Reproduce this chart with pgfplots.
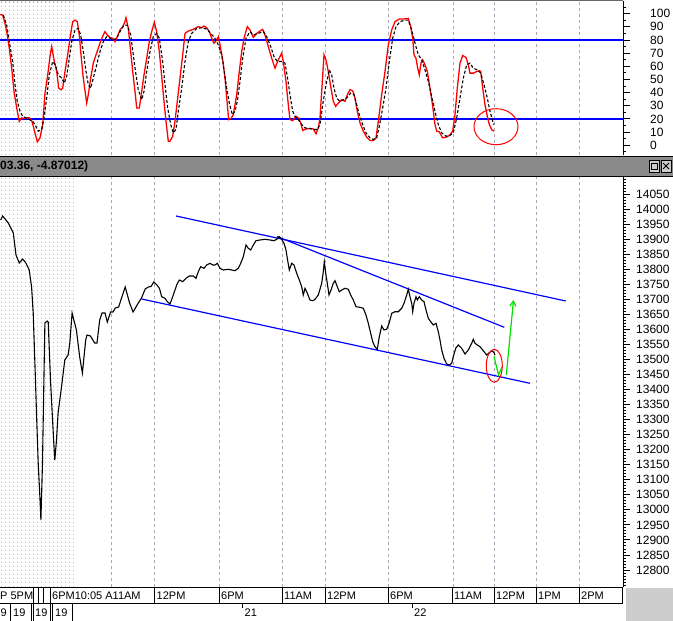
\documentclass[border=0pt]{standalone}
\usepackage{fontspec}
\setmainfont{Liberation Sans}
\usepackage{pgfplots}
\usetikzlibrary{arrows.meta}
\pgfplotsset{compat=1.18}
\definecolor{barg}{RGB}{138,138,138}
\definecolor{gridc}{RGB}{170,165,185}
\definecolor{gridm}{RGB}{190,185,200}
\definecolor{lime}{RGB}{0,225,0}
\definecolor{cornerg}{RGB}{205,205,205}
\pgfplotsset{
  common/.style={
    scale only axis, width=623pt,
    xmin=0, xmax=623,
    axis y line*=right, axis x line*=bottom,
    x axis line style={draw=none},
    xtick={111.6,154.5,219,282,325,388,453,494,536,579},
    xticklabels={},
    minor xtick={1.5,5.5,...,73.5},
    xtick style={draw=none},
    xmajorgrids, xminorgrids,
    major grid style={gridc, dash pattern=on 3pt off 3pt, line width=0.8pt},
    minor grid style={gridm, dash pattern=on 1.5pt off 2.5pt, line width=0.7pt},
    scaled y ticks=false,
    ytick align=outside,
    major tick length=7pt, minor tick length=3pt,
    y axis line style={line width=1pt},
    ytick style={line width=0.9pt, black},
    /pgf/number format/assume math mode=true,
    /pgf/number format/1000 sep={},
    yticklabel style={font=\fontsize{12}{14}\selectfont, anchor=west, inner sep=0pt},
  }
}
\begin{document}
\begin{tikzpicture}
\path[use as bounding box, fill=white] (0pt,0pt) rectangle (673pt,-621pt);

% ---------- top panel: stochastic ----------
\begin{axis}[common,
  at={(0pt,-155pt)}, anchor=south west, height=154pt,
  ymin=-7.4, ymax=109.6,
  ytick={0,10,...,100}, minor ytick={-5,5,...,105},
  yticklabel shift=20pt,
]
\addplot[blue, line width=1.2pt] coordinates {(0,80) (623,80)};
\addplot[blue, line width=1.2pt] coordinates {(0,20) (623,20)};
\addplot[red, line width=1.3pt] coordinates {
(0,99.4) (2.7,98.9) (5,92.6) (7.3,83.8) (9.3,73.7) (11.7,58.6) (14,40.9) (16.7,28.3) (19.3,18.2)
(21.7,20.8) (24,20.3) (26.7,20.8) (29.3,20.8) (31.7,18.7) (33.3,14.5) (35,9.4) (37.3,2.6) (40,5.6)
(42.7,15.7) (45,39.7) (47.3,51) (50,67.4) (51.7,75) (54,64.9) (56.7,56.1) (58.7,43.4) (61,42.2)
(62.7,43.4) (65,56.1) (67.7,68.7) (70,81.3) (72.7,93.9) (75,95.1) (77.3,93.9) (79.3,83.8) (81,68.7)
(83.3,51) (85.3,39.7) (86.7,32.1) (88.3,38.4) (90.7,51) (93.3,62.4) (96,68.7) (98.3,73.7) (100.7,79.2)
(103.3,83.8) (105,86.3) (107.3,83.8) (110,81.8) (112.7,81.3) (115,78.7) (117.3,82.5) (120,87.6)
(122.7,90.1) (125,93.9) (126,96.9) (128.3,88.8) (130.7,71.2) (132.7,56.1) (135,40.9) (136.7,28.3)
(139.3,28.3) (141.7,40.9) (144,53.5) (146.7,66.1) (149.3,78.7) (151.7,86.3) (154.3,93.4) (156.7,86.3)
(159.3,71.2) (161.7,52.3) (164,33.4) (166,18.2) (168.3,3.1) (170,3.1) (172.7,6.9) (175,18.2)
(177.3,33.4) (180,51) (182.7,68.7) (185,85) (188.3,86.8) (191.7,87.6) (195,88.8) (198.3,90.1)
(201.7,89.3) (204,90.6) (206.7,89.3) (209.3,86.3) (211.7,81.3) (214,77.5) (216,79.2) (218.3,82.5)
(220,76.2) (222.7,64.9) (225,51) (226.7,35.9) (228.7,19.5) (231,20.3) (233.3,23.3) (236.7,38.4)
(239.3,56.1) (241.7,71.2) (244,81.3) (247.3,90.1) (250,87.6) (253.3,82) (256.7,85) (260,86.8)
(262.7,88.1) (265,83.8) (268.3,75) (271.7,66.1) (275,58.6) (278.3,64.9) (281.7,69.9) (283.3,63.6)
(286,48.5) (288.3,30.8) (290,19.5) (292.7,18.7) (296,22) (298.3,20.8) (300.7,17) (302.7,11.2)
(306,12.4) (310,12.7) (313.3,12.4) (316,8.7) (318.3,13.2) (320,20.8) (321.7,40.9) (324,68.7)
(326,64.9) (328.3,56.1) (330.7,44.7) (333.3,33.4) (335.7,29.6) (338.3,32.1) (341.7,34.6) (345,33.4)
(347.3,38.4) (350,42.2) (352.7,41.4) (355,35.9) (357.3,25.8) (360,17) (363.3,10.7) (366.7,6.1)
(370,3.6) (373.3,3.6) (376,5.6) (378.3,18.2) (381.7,38.4) (385,56.1) (388.3,76.2) (391.7,87.6)
(395,93.9) (399.3,95.9) (403.3,95.9) (408.3,96.4) (410.7,90.1) (412.7,81.3) (414,68.7) (416,66.1)
(417.7,58.6) (419.3,53.5) (421,62.4) (422.7,64.9) (425,61.1) (427.3,56.1) (430,43.4) (432.7,29.6)
(435,15.7) (436.7,10.7) (439.3,10.2) (442.7,5.6) (446,6.1) (449.3,7.4) (452.7,10.7) (455,23.3)
(457.3,43.4) (460,62.4) (462.7,68.2) (466,66.7) (468.3,61.1) (470,54.8) (473.3,54.8) (476.7,56.1)
(479.3,56.6) (480.7,56.1) (482.7,43.4) (485,30.8) (487.3,22) (489.3,15.7) (491.7,11.9) (494,10.7)
};
\addplot[black, line width=1.1pt, dash pattern=on 3pt off 2pt] coordinates {
(3.3,98.9) (6.7,91.3) (9.3,78.7) (12.7,63.6) (15,46) (17.3,33.4) (20,25.8) (22.7,22) (26,20.8)
(29.3,19.5) (32.7,18.2) (35,15.7) (38.3,10.7) (41.7,12) (44,20.8) (46.7,35.9) (49.3,53.5) (52.7,63.6)
(55.3,61.1) (58.3,53.5) (61.7,51) (64.3,47.2) (66.7,52.3) (69.3,66.1) (71.7,78.7) (75,87.6) (78.3,88.8)
(80.7,83.8) (83.3,71.2) (86,56.1) (88.3,46) (90.7,43.4) (93.3,51) (96.7,61.1) (100,71.2) (103.3,78.7)
(106.7,82.5) (110,81.3) (113.3,80) (116.7,81.3) (120,86.3) (124,91.3) (127.3,91.3) (130.7,83.8)
(133.3,68.7) (136,53.5) (138.3,42.2) (141.7,34.6) (144,40.9) (146.7,56.1) (150,71.2) (153.3,82.5)
(156.7,85) (159.3,81.3) (162.7,63.6) (165,46) (167.7,28.3) (170.7,15.7) (173.3,9.4) (176,12)
(178.3,25.8) (181.7,43.4) (185,63.6) (188.3,78.7) (191.7,85) (196.7,88.8) (201.7,89.3) (206.7,88.3)
(210.7,85) (215,81.3) (218.3,76.2) (221.7,68.7) (224,57.3) (226.7,43.4) (229.3,32.1) (232.3,23.3)
(235,25.8) (237.3,33.4) (240,48.5) (242.7,66.1) (246,81.3) (250,86.3) (253.3,83.8) (258.3,85)
(263.3,86.3) (266.7,82.5) (270.7,75) (274,67.4) (277.3,63.6) (281.7,63.6) (285,62.4) (287.3,52.3)
(290,38.4) (292.7,25.8) (295,22) (298.3,19.5) (301.7,15.7) (305,13.2) (310,12.7) (314,12) (317.3,12)
(320,15.7) (322.7,30.8) (326,46) (329.3,57.3) (331.7,53.5) (334,43.4) (336.7,35.9) (340,33.4)
(343.3,34.6) (346.7,35.9) (350.7,39.7) (354,38.4) (356.7,30.8) (359.3,23.3) (362.7,15.7) (366,9.4)
(370,5.6) (373.3,4.4) (376.7,5.6) (379.3,14.5) (382.7,28.3) (386,43.4) (389.3,63.6) (392.7,81.3)
(396,90.1) (400,93.9) (405,95.1) (408.3,95.1) (411.7,87.6) (415,77.5) (418.3,68.7) (421.7,64.9)
(425,57.3) (428.3,48.5) (431.7,37.1) (435,25.8) (438.3,15.7) (441.7,9.4) (446,6.9) (450,7.6)
(453.3,9.4) (456.7,20.8) (460,35.9) (463.3,51) (466.7,61.1) (470,62.4) (473.3,58.6) (477.3,57.3)
(480.7,54.8) (484,46) (487.3,35.9) (490,25.8) (492.7,18.2) (494,15.7)
};
\draw[red, line width=1pt] (axis cs:496,14.1) ellipse [x radius=22pt, y radius=18pt];
\end{axis}

% ---------- bottom panel: price ----------
\begin{axis}[common,
  at={(0pt,-587pt)}, anchor=south west, height=410pt,
  ymin=12743.5, ymax=14106.5,
  ytick={12800,12850,...,14050}, minor ytick={12750,12760,...,14100},
  yticklabel shift=6pt,
]
\addplot[blue, line width=1.2pt] coordinates {(176,13976.9) (565.7,13694.3)};
\addplot[blue, line width=1.2pt] coordinates {(277,13908.7) (504.3,13606.8)};
\addplot[blue, line width=1.2pt] coordinates {(141.7,13700.9) (530,13420.7)};
\addplot[black, line width=1.1pt] coordinates {
(0.7,13963.6) (2.7,13976.9) (8.3,13953.6) (13.3,13920.3) (16,13847.2) (19.3,13820.6) (22.6,13833.9)
(25.9,13820.6) (29.2,13797.3) (31.6,13740.8) (33.2,13654.4) (34.9,13488.2) (36.5,13321.9)
(38.2,13155.7) (39.9,13042.7) (40.9,12966.2) (42.5,13155.7) (43.9,13431.6) (44.9,13621.1)
(47.2,13627.8) (48.2,13624.5) (49.2,13541.4) (50.5,13431.6) (52.2,13321.9) (53.8,13222.2)
(54.8,13165.7) (56.5,13232.2) (58.1,13321.9) (61.5,13408.4) (64.8,13498.1) (68.1,13514.8)
(69.8,13554.6) (72.1,13654.4) (76.4,13597.9) (79.7,13508.1) (82.4,13454.9) (85.7,13564.6)
(87,13581.2) (90.4,13577.9) (94.7,13554.6) (97,13554.6) (99.7,13631.1) (102,13654.4) (105,13654.4)
(107.3,13624.5) (110.6,13657.7) (113,13657.7) (115.3,13671) (118.6,13674.3) (121.9,13707.6)
(125.2,13740.8) (129.6,13687.6) (133.1,13657.7) (137.7,13684.3) (141.5,13704.3) (145.2,13734.2)
(148.4,13740.8) (151,13742.5) (153.8,13757.4) (156.9,13747.5) (159.5,13735.8) (161.7,13708.6)
(165,13703.3) (167.3,13692) (170,13684.3) (173.3,13714.2) (176.7,13747.5) (179.3,13764.1)
(182.7,13758.4) (186,13769.7) (189.3,13777.4) (193.3,13777.4) (196,13769.7) (198.3,13791.7)
(200.7,13808.3) (204,13803) (206.7,13814) (210,13819.6) (212.7,13814) (215,13814) (217.3,13819.6)
(220,13803) (223.3,13797.3) (228.3,13799.7) (231.7,13797.3) (235,13795) (238.3,13803) (240.7,13819.6)
(243.3,13841.6) (246,13880.5) (248.3,13869.5) (250.7,13863.8) (253.3,13880.5) (256,13894.7)
(260,13897.1) (265,13899.4) (270,13897.1) (274,13894.7) (276.7,13899.4) (279.3,13908) (281.7,13899.4)
(284,13886.1) (286,13863.8) (287.3,13836.2) (289.3,13797.3) (291.7,13819.6) (294,13814)
(296.7,13786.4) (299.3,13764.1) (301.7,13741.8) (303.3,13714.2) (305,13736.5) (306.7,13725.2)
(310,13697.6) (312.7,13695.3) (315,13699.9) (318.3,13714.2) (321.7,13753.1) (323.3,13791.7)
(324.3,13824.9) (325.7,13786.4) (327.3,13753.1) (329,13714.2) (331,13730.8) (333.3,13753.1)
(335,13761.8) (337.3,13741.8) (339.3,13725.2) (341.7,13730.8) (345,13736.5) (348.3,13733.2)
(350.7,13714.2) (353.3,13697.6) (356,13675.3) (360,13673.3) (363.3,13670) (366,13647.7)
(368.3,13620.1) (370.7,13586.9) (372.7,13559) (375,13542.3) (377.3,13533.7) (379.3,13575.6)
(381.7,13611.2) (384,13597.9) (386.7,13600.2) (389.3,13622.1) (391.7,13653.4) (395,13658.7)
(398.3,13658.7) (401.7,13670) (404,13686.6) (406.7,13714.2) (408.3,13733.2) (410,13708.6)
(411.7,13686.6) (412.7,13658.7) (414,13686.6) (416,13708.6) (417.3,13697.6) (419.3,13708.6)
(421.7,13697.6) (424,13692) (426,13664.4) (428.3,13636.8) (430.7,13625.5) (433.3,13614.5)
(436,13620.1) (438.3,13592.2) (440,13564.6) (441.7,13531.4) (444,13503.8) (446.7,13484.8)
(449.3,13481.5) (451.7,13487.2) (453.3,13509.1) (455.7,13537) (458.3,13548) (461.7,13537)
(465,13518.1) (468.3,13531.4) (471.7,13553.7) (473.3,13567) (475,13553.7) (477.3,13548)
(480,13542.3) (483.3,13529) (486.7,13514.8) (489.3,13522.4) (492,13529) (494,13522.4) (495,13514)
};
\addplot[lime, line width=1.2pt] coordinates {(494,13510) (498.5,13448.3) (502,13474.9)};
\addplot[lime, line width=1.2pt, -{Straight Barb[length=5pt, width=6pt]}] coordinates {(506.3,13448) (513.5,13697.6)};
\draw[red, line width=1pt] (axis cs:494.3,13479) ellipse [x radius=8pt, y radius=16.5pt];
\end{axis}

% ---------- frame, title bar and time labels ----------
\begin{scope}[x=1pt, y=-1pt]
\draw[black!60, line width=1pt] (0,0.5) -- (623,0.5);
\fill[barg] (0,156) rectangle (673,177);
\draw[black, line width=1.2pt] (0,156.3) -- (673,156.3);
\draw[black, line width=1.2pt] (0,176.6) -- (673,176.6);
\node[anchor=west, inner sep=0pt, font=\bfseries\fontsize{12}{14}\selectfont] at (0,166.5) {03.36, -4.87012)};
\fill[black!20] (649,160) rectangle (659,172);
\draw[black, line width=0.6pt] (649,160) rectangle (659,172);
\draw[black, line width=1pt] (651,163) rectangle (657,169);
\fill[black!20] (661,160) rectangle (671,172);
\draw[black, line width=0.6pt] (661,160) rectangle (671,172);
\draw[black, line width=0.8pt] (663,163) -- (669,169) (663,169) -- (669,163);

\draw[black, line width=1pt] (0,587.5) -- (623,587.5);
\draw[black, line width=1pt] (0,603.5) -- (623,603.5);
\draw[black, line width=1pt] (622.5,587) -- (622.5,604);
\foreach \s in {33,38,43,50.5,154.5,219,282,325,388,452,494,536,579}
  \draw[black, line width=1pt] (\s,587.5) -- (\s,603.5);
\begin{scope}[every node/.style={anchor=west, inner sep=0pt, font=\fontsize{11}{13}\selectfont}]
\node at (0,595.8) {P 5PM};
\node at (52,595.8) {6PM10:05 A11AM};
\node at (156.5,595.8) {12PM};
\node at (221,595.8) {6PM};
\node at (284,595.8) {11AM};
\node at (327,595.8) {12PM};
\node at (390,595.8) {6PM};
\node at (454,595.8) {11AM};
\node at (496,595.8) {12PM};
\node at (538,595.8) {1PM};
\node at (581,595.8) {2PM};
\node at (0.5,612.5) {9};
\node at (13,612.5) {19};
\node at (35,612.5) {19};
\node at (55,612.5) {19};
\node at (244.5,612.5) {21};
\node at (414,612.5) {22};
\end{scope}
\foreach \s in {10.7,31.3,33.2,50.6,52.4,72}
  \draw[black, line width=0.9pt] (\s,603.5) -- (\s,621);
\draw[black, line width=0.8pt] (242.5,603.5) -- (242.5,608);
\draw[black, line width=0.8pt] (412,603.5) -- (412,608);
\fill[cornerg] (626,588) rectangle (673,621);
\end{scope}
\end{tikzpicture}
\end{document}
